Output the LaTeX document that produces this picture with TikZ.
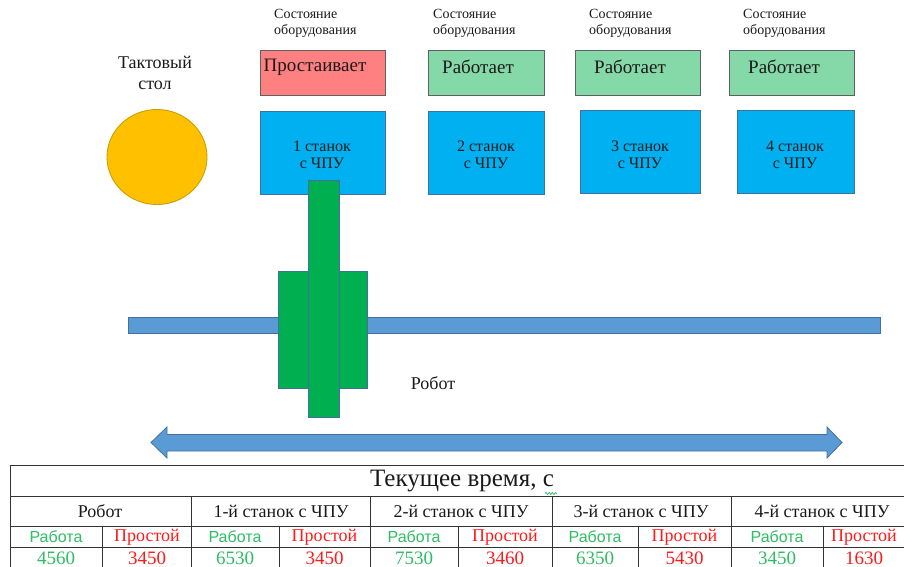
\documentclass[tikz,border=0pt]{standalone}
\usepackage{fontspec}
\setmainfont{Liberation Serif}
\newfontfamily\sansf{Liberation Sans}
\usetikzlibrary{shapes.geometric,decorations.pathmorphing}
\definecolor{stopred}{HTML}{FF8080}
\definecolor{workgreen}{HTML}{85D8A8}
\definecolor{machblue}{HTML}{00B0F0}
\definecolor{robgreen}{HTML}{00B050}
\definecolor{railblue}{HTML}{5B9BD5}
\definecolor{olblue}{HTML}{41719C}
\definecolor{tabgreen}{HTML}{2EBD63}
\definecolor{tabred}{HTML}{FF1A1A}
\definecolor{sun}{HTML}{FFC000}
\definecolor{sunedge}{HTML}{C9A000}
\definecolor{txt}{HTML}{1A1A1A}
\begin{document}
\begin{tikzpicture}[x=1pt,y=-1pt,
  fs/.style={font=\fontsize{#1}{#1}\selectfont},
  plain/.style={inner sep=0pt, text=txt},
  statebox/.style={draw=gray!75!black, line width=0.9pt, inner sep=0pt},
  machbox/.style={draw=olblue, line width=0.9pt, fill=machblue, inner sep=0pt, minimum height=83pt},
  robpart/.style={draw=olblue, line width=0.8pt, fill=robgreen, inner sep=0pt},
  railshape/.style={draw=olblue, line width=0.8pt, fill=railblue},
  grid/.style={draw=black!80, line width=0.9pt},
  worktxt/.style={inner sep=0pt, text=tabgreen, font=\sansf\fontsize{16}{16}\selectfont},
  idletxt/.style={inner sep=0pt, text=tabred, fs=18},
  numg/.style={inner sep=0pt, text=tabgreen, fs=19},
  numr/.style={inner sep=0pt, text=tabred, fs=19},
  hdr/.style={inner sep=0pt, text=txt, fs=18}]
\useasboundingbox (0,0) rectangle (904,567);
\clip (0,0) rectangle (904,567);

% rotary table
\node[ellipse, draw=sunedge, line width=0.9pt, fill=sun, minimum width=100pt, minimum height=95pt, inner sep=0pt] (rtable) at (157,157) {};
\node[plain, fs=18, align=center] (rtablelbl) at (155,73) {Тактовый\\[3pt]стол};

% state labels
\node[plain, fs=14, align=left, anchor=north west] (st1lbl) at (274,9) {Состояние\\[2pt]оборудования};
\node[plain, fs=14, align=left, anchor=north west] (st2lbl) at (433,9) {Состояние\\[2pt]оборудования};
\node[plain, fs=14, align=left, anchor=north west] (st3lbl) at (589,9) {Состояние\\[2pt]оборудования};
\node[plain, fs=14, align=left, anchor=north west] (st4lbl) at (743,9) {Состояние\\[2pt]оборудования};

% state boxes
\node[statebox, fill=stopred, minimum width=125pt, minimum height=45pt] (s1) at (322.5,72.5) {};
\node[statebox, fill=workgreen, minimum width=116pt, minimum height=45pt] (s2) at (486,72.5) {};
\node[statebox, fill=workgreen, minimum width=125pt, minimum height=45pt] (s3) at (637.5,72.5) {};
\node[statebox, fill=workgreen, minimum width=125pt, minimum height=45pt] (s4) at (791.5,72.5) {};
\node[plain, fs=19] (s1t) at (315,67) {Простаивает};
\node[plain, fs=19] (s2t) at (478,67) {Работает};
\node[plain, fs=19] (s3t) at (630,67) {Работает};
\node[plain, fs=19] (s4t) at (784,67) {Работает};

% machines
\node[machbox, minimum width=125pt] (m1) at (322.5,152.5) {};
\node[machbox, minimum width=116pt] (m2) at (486,152.5) {};
\node[machbox, minimum width=120pt] (m3) at (640,152) {};
\node[machbox, minimum width=117pt] (m4) at (795.5,151.5) {};
\node[plain, fs=16, align=center] (m1t) at (322,155) {1 станок\\[1pt]с ЧПУ};
\node[plain, fs=16, align=center] (m2t) at (486,155) {2 станок\\[1pt]с ЧПУ};
\node[plain, fs=16, align=center] (m3t) at (640,155) {3 станок\\[1pt]с ЧПУ};
\node[plain, fs=16, align=center] (m4t) at (795,155) {4 станок\\[1pt]с ЧПУ};

% rail
\draw[railshape] (128,317) rectangle (880,333);

% robot
\draw[robpart] (278,271) rectangle (308,388);
\draw[robpart] (339,271) rectangle (367,388);
\draw[robpart] (308,180) rectangle (339,417);
\node[plain, fs=18] (roblbl) at (433,383) {Робот};

% double arrow
\draw[railshape] (151,442.5) -- (167,427) -- (167,434.5) -- (827,434.5) -- (827,427)
  -- (842,442.5) -- (827,458) -- (827,451) -- (167,451) -- (167,458) -- cycle;

% table grid
\draw[grid] (10,465) -- (911,465);
\draw[grid] (10,496) -- (911,496);
\draw[grid] (10,526) -- (911,526);
\draw[grid] (10,547) -- (911,547);
\draw[grid] (10,465) -- (10,570);
\foreach \xx in {191,370,552,731} \draw[grid] (\xx,496) -- (\xx,570);
\foreach \xx in {102,279,458,638,823} \draw[grid] (\xx,526) -- (\xx,570);

% table texts
\node[plain, fs=25] (ttitle) at (462,481) {Текущее время, с};
\draw[tabgreen, line width=0.7pt, decorate, decoration={snake, amplitude=1.1pt, segment length=3.2pt}] (545,493.5) -- (557,493.5);

\node[hdr] (h0) at (100,511) {Робот};
\node[hdr] (h1) at (281,511) {1-й станок с ЧПУ};
\node[hdr] (h2) at (461,511) {2-й станок с ЧПУ};
\node[hdr] (h3) at (641,511) {3-й станок с ЧПУ};
\node[hdr] (h4) at (822,511) {4-й станок с ЧПУ};

\node[worktxt] (w0) at (56,537) {Работа};
\node[idletxt] (i0) at (147,537) {Простой};
\node[worktxt] (w1) at (235,537) {Работа};
\node[idletxt] (i1) at (324.5,537) {Простой};
\node[worktxt] (w2) at (414,537) {Работа};
\node[idletxt] (i2) at (505,537) {Простой};
\node[worktxt] (w3) at (595,537) {Работа};
\node[idletxt] (i3) at (684.5,537) {Простой};
\node[worktxt] (w4) at (777,537) {Работа};
\node[idletxt] (i4) at (864,537) {Простой};

\node[numg] (n0) at (56,558) {4560};
\node[numr] (n1) at (147,558) {3450};
\node[numg] (n2) at (235,558) {6530};
\node[numr] (n3) at (324.5,558) {3450};
\node[numg] (n4) at (414,558) {7530};
\node[numr] (n5) at (505,558) {3460};
\node[numg] (n6) at (595,558) {6350};
\node[numr] (n7) at (684.5,558) {5430};
\node[numg] (n8) at (777,558) {3450};
\node[numr] (n9) at (864,558) {1630};
\end{tikzpicture}
\end{document}
